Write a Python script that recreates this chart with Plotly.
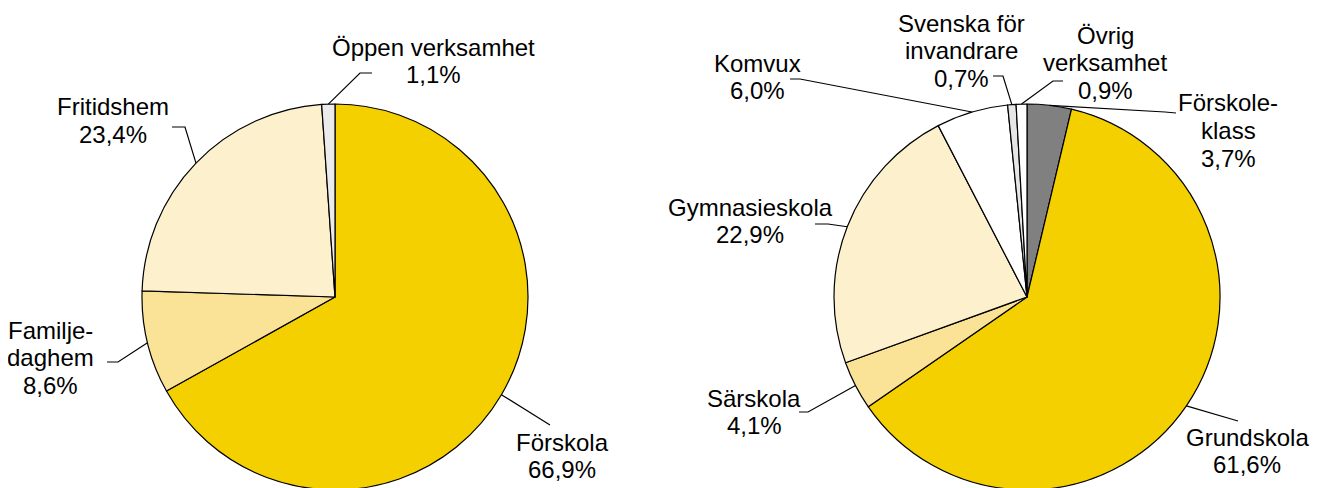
import math
import plotly.graph_objects as go

# page body has an 8px margin: figure is placed at (8, 8) in the 1318x488 window
OFF = 8
FW, FH = 1310, 482

# ---------------- data ----------------
left_names = ["Förskola", "Familjedaghem", "Fritidshem", "Öppen verksamhet"]
left_values = [66.9, 8.6, 23.4, 1.1]
left_label_lines = [["Förskola"], ["Familje-", "daghem"], ["Fritidshem"], ["Öppen verksamhet"]]
left_colors = ["#F5D000", "#FAE396", "#FDF0CC", "#EBEBEB"]

right_names = ["Förskoleklass", "Grundskola", "Särskola", "Gymnasieskola",
               "Komvux", "Svenska för invandrare", "Övrig verksamhet"]
right_values = [3.7, 61.6, 4.1, 22.9, 6.0, 0.7, 0.9]
right_label_lines = [["Förskole-", "klass"], ["Grundskola"], ["Särskola"], ["Gymnasieskola"],
                     ["Komvux"], ["Svenska för", "invandrare"], ["Övrig", "verksamhet"]]
right_colors = ["#808080", "#F5D000", "#FAE396", "#FDF0CC", "#FFFFFF", "#E6E6E6", "#FFFFFF"]

# ---------------- layout (window-pixel positions of labels / leader elbows) ----------------
R = 193
left_cx, right_cx = 335, 1027
CY = OFF + FH - R  # pie centre in window pixels (pie domain sits on the figure bottom)

# label centre x, first line y, leader points (from slice edge outward)
left_label_pos = [
    (562, 442, [(550, 425)]),
    (50, 330, [(118, 362), (107, 362)]),
    (113, 107, [(185, 127), (172, 127)]),
    (433, 47, [(360, 73), (372, 73)]),
]
right_label_pos = [
    (1228, 103, [(1165, 112), (1176, 113)]),
    (1247, 437, [(1238, 421)]),
    (754, 398, [(808, 412), (799, 412)]),
    (750, 207, [(828, 224), (815, 224)]),
    (758, 63, [(800, 79), (790, 79)]),
    (961, 23, [(1003, 76), (993, 76)]),
    (1105, 35, [(1053, 81), (1063, 81)]),
]
LINE_H = 27.5
FONT = dict(family="Liberation Sans, Arial, sans-serif", size=24, color="#000000")


def px(x):
    return (x - OFF) / FW


def py(y):
    return 1 - (y - OFF) / FH


def pct(v):
    return f"{v:.1f}".replace(".", ",") + "%"


fig = go.Figure()
annotations = []
shapes = []


def add_pie(names, values, colors, cx, label_lines, label_pos):
    fig.add_trace(go.Pie(
        labels=names, values=values, sort=False, direction="clockwise", rotation=0,
        marker=dict(colors=colors, line=dict(color="#000000", width=1.2)),
        textinfo="none", hoverinfo="label+percent", showlegend=False,
        domain=dict(x=[px(cx - R), px(cx + R)], y=[0, 2 * R / FH]),
    ))
    total = sum(values)
    cum = 0.0
    for v, lines, (lx, ly, pts) in zip(values, label_lines, label_pos):
        mid = (cum + v / 2) / total
        cum += v
        th = mid * 2 * math.pi
        ex = cx + R * math.sin(th)
        ey = CY - R * math.cos(th)
        all_lines = lines + [pct(v)]
        for i, t in enumerate(all_lines):
            annotations.append(dict(
                x=px(lx), y=py(ly + i * LINE_H), xref="paper", yref="paper",
                text=t, showarrow=False, xanchor="center", yanchor="middle", font=FONT,
            ))
        path_pts = [(ex, ey)] + pts
        path = "M " + " L ".join(f"{px(a):.5f},{py(b):.5f}" for a, b in path_pts)
        shapes.append(dict(type="path", path=path, xref="paper", yref="paper",
                           line=dict(color="#000000", width=1.2)))


add_pie(left_names, left_values, left_colors, left_cx, left_label_lines, left_label_pos)
add_pie(right_names, right_values, right_colors, right_cx, right_label_lines, right_label_pos)

fig.update_layout(
    width=FW, height=FH, margin=dict(l=0, r=0, t=0, b=0),
    paper_bgcolor="#FFFFFF", plot_bgcolor="#FFFFFF",
    annotations=annotations, shapes=shapes,
)

fig.write_html("out.html")
